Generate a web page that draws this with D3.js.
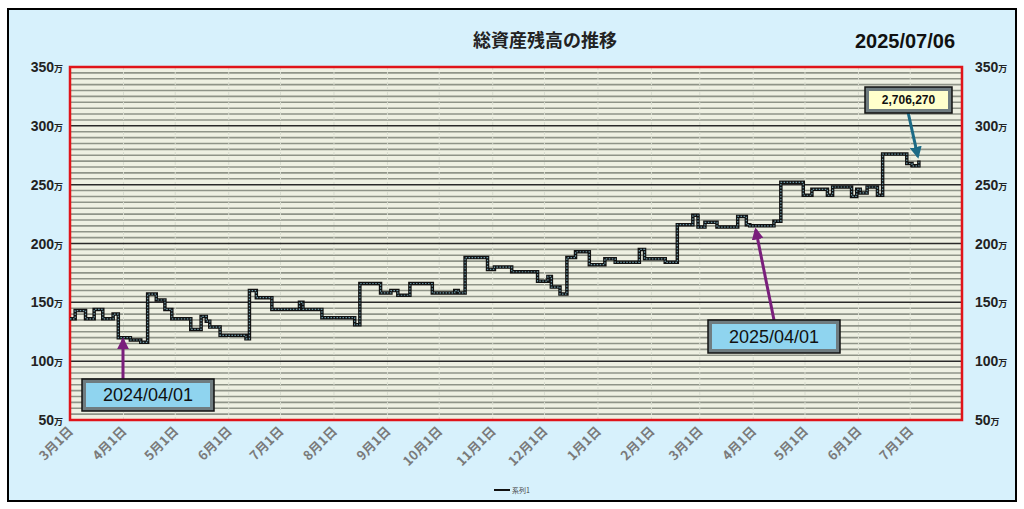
<!DOCTYPE html>
<html><head><meta charset="utf-8">
<script src="https://cdn.jsdelivr.net/npm/d3@7"></script>
<style>body{margin:0;background:#fff}svg{display:block;font-family:'Liberation Sans',Arial,sans-serif}</style>
</head><body><div id="chart"></div>
<script>
// step series: date of change and new value (万円)
const dates = ['2024-03-01','2024-03-04','2024-03-10','2024-03-15','2024-03-20','2024-03-26','2024-03-29','2024-04-05','2024-04-11','2024-04-15',
  '2024-04-20','2024-04-25','2024-04-29','2024-05-10','2024-05-16','2024-05-19','2024-05-21','2024-05-27','2024-06-11','2024-06-13',
  '2024-06-17','2024-06-26','2024-07-12','2024-07-14','2024-07-25','2024-08-13','2024-08-16','2024-08-28','2024-09-03','2024-09-07',
  '2024-09-14','2024-09-27','2024-10-10','2024-10-12','2024-10-16','2024-10-29','2024-11-02','2024-11-12','2024-11-27','2024-12-03',
  '2024-12-05','2024-12-10','2024-12-14','2024-12-19','2024-12-27','2025-01-05','2025-01-11','2025-01-25','2025-01-28','2025-02-09',
  '2025-02-16','2025-02-25','2025-02-28','2025-03-04','2025-03-11','2025-03-23','2025-03-28','2025-03-30','2025-04-13','2025-04-17',
  '2025-04-30','2025-05-05','2025-05-14','2025-05-17','2025-05-28','2025-05-31','2025-06-02','2025-06-06','2025-06-12','2025-06-15',
  '2025-06-29','2025-07-02','2025-07-06'];
const values = [136,143,136,144,136,140,120,118,116,157,
  152,144,136,127,138,134,129,122,119,160,
  154,144,150,144,137,131,166,158,160,156,
  166,158,160,158,188,178,180,176,168,172,
  163,157,188,193,182,187,184,195,187,184,
  216,224,214,218,214,223,216,215,219,252,
  241,246,241,248,240,246,243,248,241,276,
  268,266,270.6];
const yTicks = [50,100,150,200,250,300,350];
const xTicks = ['2024-03-01','2024-04-01','2024-05-01','2024-06-01','2024-07-01','2024-08-01','2024-09-01','2024-10-01','2024-11-01','2024-12-01',
  '2025-01-01','2025-02-01','2025-03-01','2025-04-01','2025-05-01','2025-06-01','2025-07-01'];
const titleText = '総資産残高の推移';
const dateText = '2025/07/06';
const lastLabel = '2,706,270';

const W = 1024, H = 509;
const parse = d3.timeParse('%Y-%m-%d');
const data = dates.map((d, i) => ({date: parse(d), value: values[i]}));
const x = d3.scaleTime().domain([parse('2024-03-01'), parse('2025-07-31')]).range([70, 962]);
const y = d3.scaleLinear().domain([50, 350]).range([420, 67]);

const svg = d3.select('#chart').append('svg').attr('width', W).attr('height', H);
svg.append('rect').attr('x', 0).attr('y', 0).attr('width', W).attr('height', H).attr('fill', '#fff');
svg.append('rect').attr('x', 8).attr('y', 9).attr('width', 1008).attr('height', 492)
  .attr('fill', '#d7f1fc').attr('stroke', '#000').attr('stroke-width', 2);

// plot background
svg.append('rect').attr('x', 70).attr('y', 67).attr('width', 892).attr('height', 353).attr('fill', '#eef0e2');

// minor grid every 5
svg.append('g').selectAll('line').data(d3.range(55, 350, 5).filter(v => v % 50 !== 0)).join('line')
  .attr('x1', 70).attr('x2', 962).attr('y1', d => y(d)).attr('y2', d => y(d))
  .attr('stroke', '#8f9488').attr('stroke-width', 1.6);
// vertical grid
svg.append('g').selectAll('line').data(xTicks.slice(1)).join('line')
  .attr('x1', d => x(parse(d))).attr('x2', d => x(parse(d))).attr('y1', 67).attr('y2', 420)
  .attr('stroke', '#d8dccf').attr('stroke-width', 1).attr('stroke-dasharray', '3,2');
// major grid
svg.append('g').selectAll('line').data(yTicks.slice(1, -1)).join('line')
  .attr('x1', 70).attr('x2', 962).attr('y1', d => y(d)).attr('y2', d => y(d))
  .attr('stroke', '#2a2a2a').attr('stroke-width', 1.5);
svg.append('rect').attr('x', 70).attr('y', 67).attr('width', 892).attr('height', 353)
  .attr('fill', 'none').attr('stroke', '#e0141a').attr('stroke-width', 2.5);

// axes labels
const yl = svg.append('g');
yTicks.forEach(v => {
  [[63, 'end'], [975, 'start']].forEach(([px, anchor]) => {
    const t = yl.append('text').attr('x', px).attr('y', y(v) + 5).attr('text-anchor', anchor)
      .attr('font-size', 14).attr('font-weight', 'bold').attr('fill', '#222');
    t.append('tspan').text(v);
    t.append('tspan').attr('font-size', 9).attr('font-family', 'Noto Sans CJK JP').text('万');
  });
});
svg.append('g').selectAll('text').data(xTicks).join('text')
  .attr('transform', d => `translate(${x(parse(d)) + 4},${432}) rotate(-45)`)
  .attr('text-anchor', 'end').attr('font-size', 13).attr('font-weight', 'bold')
  .attr('font-family', 'Noto Sans CJK JP').attr('fill', '#7a7a7a')
  .text(d => (+d.slice(5, 7)) + '月1日');

// series
const line = d3.line().x(d => x(d.date)).y(d => y(d.value)).curve(d3.curveStepAfter);
svg.append('path').datum(data).attr('d', line).attr('fill', 'none').attr('stroke', '#111').attr('stroke-width', 3.5);
svg.append('path').datum(data).attr('d', line).attr('fill', 'none').attr('stroke', '#6b96a3')
  .attr('stroke-width', 1.2).attr('stroke-dasharray', '1.5,1.5');

// title
svg.append('text').attr('x', 545).attr('y', 47).attr('text-anchor', 'middle').attr('font-size', 18)
  .attr('font-family', 'Noto Sans CJK JP').attr('font-weight', 'bold').attr('fill', '#222').text(titleText);
svg.append('text').attr('x', 905).attr('y', 48).attr('text-anchor', 'middle').attr('font-size', 20)
  .attr('font-weight', 'bold').attr('fill', '#111').text(dateText);

// callouts
const defs = svg.append('defs');
[['ap', '#7a1f7c'], ['at', '#1d6b86']].forEach(([id, c]) => {
  defs.append('marker').attr('id', id).attr('viewBox', '0 0 10 10').attr('refX', 8).attr('refY', 5)
    .attr('markerWidth', 4).attr('markerHeight', 4).attr('orient', 'auto')
    .append('path').attr('d', 'M0,0L10,5L0,10z').attr('fill', c);
});
function arrow(x1, y1, x2, y2, id, c) {
  svg.append('line').attr('x1', x1).attr('y1', y1).attr('x2', x2).attr('y2', y2)
    .attr('stroke', c).attr('stroke-width', 3).attr('marker-end', `url(#${id})`);
}
function box(bx, by, bw, bh, fill, label, fs, bold) {
  svg.append('rect').attr('x', bx).attr('y', by).attr('width', bw).attr('height', bh)
    .attr('fill', '#6f7c80').attr('stroke', '#111').attr('stroke-width', 1.5);
  svg.append('rect').attr('x', bx + 4).attr('y', by + 4).attr('width', bw - 8).attr('height', bh - 8).attr('fill', fill);
  svg.append('text').attr('x', bx + bw / 2).attr('y', by + bh / 2 + fs * 0.36).attr('text-anchor', 'middle')
    .attr('font-size', fs).attr('font-weight', bold ? 'bold' : 'normal').attr('fill', '#111').text(label);
}
const d1 = data.find(d => +d.date === +parse('2024-03-29'));
arrow(123, 380, 123, y(d1.value) + 2, 'ap', '#7a1f7c');
box(82, 379, 132, 32, '#8fd4ef', '2024/04/01', 18, false);
const d2 = data.find(d => +d.date === +parse('2025-03-30'));
arrow(774, 320, x(d2.date) + 6, y(d2.value) + 4, 'ap', '#7a1f7c');
box(708, 320, 132, 33, '#8fd4ef', '2025/04/01', 18, false);
const last = data[data.length - 1];
arrow(908, 112, x(last.date) - 1, y(last.value) - 4, 'at', '#1d6b86');
box(865, 87, 87, 26, '#ffffcc', lastLabel, 12, true);

// legend
svg.append('line').attr('x1', 494).attr('x2', 510).attr('y1', 490).attr('y2', 490).attr('stroke', '#111').attr('stroke-width', 2);
svg.append('text').attr('x', 512).attr('y', 493).attr('font-size', 7).attr('fill', '#444')
  .attr('font-family', 'Noto Sans CJK JP').text('系列1');
</script></body></html>
